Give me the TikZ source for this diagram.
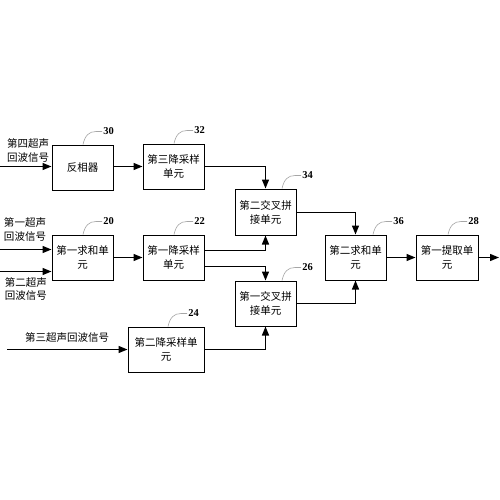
\documentclass[tikz,border=0pt]{standalone}
\usepackage{fontspec}
\setmainfont{Noto Sans CJK SC}
\newfontfamily\numfont{Liberation Serif}
\usetikzlibrary{arrows.meta,calc}
\newcommand{\callout}[3]{%
  \draw[leader] ($(#1.north)+(#2,0)$) coordinate (s) .. controls ($(s)+(2,-9)$) and ($(s)+(6,-13)$) .. ($(s)+(13,-13)$) -- ($(s)+(19,-13)$) node[num,anchor=west] (#1num) {#3};}
\begin{document}
\begin{tikzpicture}[x=1pt,y=-1pt,
  box/.style={draw,line width=1pt,minimum width=61pt,minimum height=45pt,align=center,inner sep=1pt,font=\fontsize{10.5}{14}\selectfont},
  conn/.style={line width=1.3pt,-{Triangle[length=9pt,width=7pt]}},
  leader/.style={draw=gray!70,line width=0.6pt},
  num/.style={font=\numfont\bfseries\fontsize{10.5}{12}\selectfont,inner sep=1pt},
  lab/.style={font=\fontsize{10.5}{13.5}\selectfont,align=left,inner sep=0pt}]
\fill[white] (0,0) rectangle (500,500);
\useasboundingbox (0,0) rectangle (500,500);

\node[box] (n30) at (82.5,167.5) {反相器};
\node[box] (n32) at (173.5,166.5) {第三降采样\\单元};
\node[box] (n20) at (82.5,257.5) {第一求和单\\元};
\node[box] (n22) at (173.5,257.5) {第一降采样\\单元};
\node[box,minimum width=76pt] (n24) at (166,349.5) {第二降采样单\\元};
\node[box,minimum height=46pt] (n34) at (265.5,212) {第二交叉拼\\接单元};
\node[box] (n26) at (265.5,303.5) {第一交叉拼\\接单元};
\node[box] (n36) at (355.5,257.5) {第二求和单\\元};
\node[box,minimum width=62pt] (n28) at (447,257.5) {第一提取单\\元};

\node[lab] (l4) at (28,150.5) {第四超声\\回波信号};
\node[lab] (l1) at (25,229.5) {第一超声\\回波信号};
\node[lab] (l2) at (26,289) {第二超声\\回波信号};
\node[lab] (l3) at (67,338) {第三超声回波信号};

\coordinate (in4) at (0,166.5);
\coordinate (in1) at (0,249.5);
\coordinate (in2) at (0,271.5);
\coordinate (in3) at (7,349.5);
\coordinate (out) at (499,257.5);

\draw[conn] (in4) -- (in4 -| n30.west);
\draw[conn] (in1) -- (in1 -| n20.west);
\draw[conn] (in2) -- (in2 -| n20.west);
\draw[conn] (in3) -- (n24.west);
\draw[conn] (n30.east |- in4) -- (n32.west |- in4);
\draw[conn] (n20) -- (n22);
\draw[conn] (n32.east |- in4) -| (n34.north);
\draw[conn] ($(n22.east)+(0,-7)$) -| (n34.south);
\draw[conn] ($(n22.east)+(0,9)$) -| (n26.north);
\draw[conn] (n24.east) -| (n26.south);
\draw[conn] ($(n34.east)+(0,0.5)$) -| (n36.north);
\draw[conn] (n26.east) -| (n36.south);
\draw[conn] (n36) -- (n28);
\draw[conn] (n28.east) -- (out);

\callout{n30}{0.5}{30}
\callout{n32}{0.5}{32}
\callout{n20}{0.5}{20}
\callout{n22}{0.5}{22}
\callout{n24}{2}{24}
\callout{n34}{16.5}{34}
\callout{n26}{16.5}{26}
\callout{n36}{17.5}{36}
\callout{n28}{1}{28}
\end{tikzpicture}
\end{document}
